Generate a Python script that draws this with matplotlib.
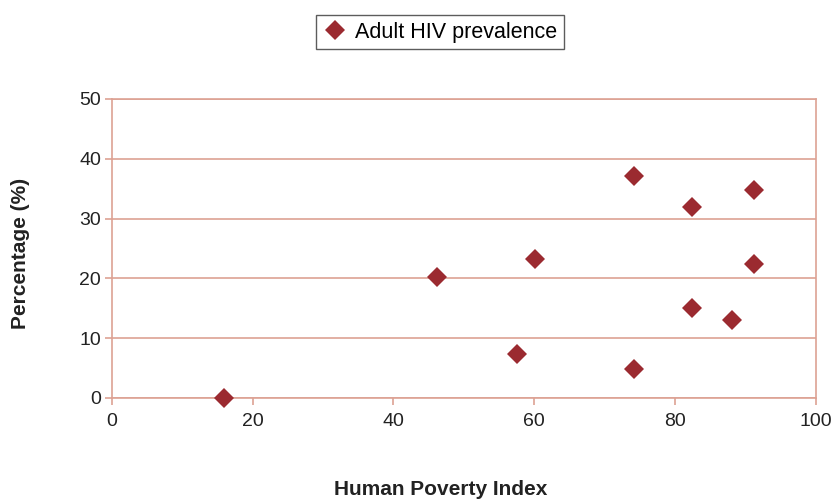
import matplotlib.pyplot as plt
from matplotlib.lines import Line2D

# Human Poverty Index vs adult HIV prevalence (%)
hpi = [15.9, 46.2, 57.6, 60.1, 74.2, 74.2, 82.4, 82.4, 88.1, 91.3, 91.3]
hiv = [0.0, 20.2, 7.3, 23.2, 37.2, 4.9, 31.9, 15.0, 13.0, 34.7, 22.4]
x_ticks = [0, 20, 40, 60, 80, 100]
y_ticks = [0, 10, 20, 30, 40, 50]
series_name = "Adult HIV prevalence"

MARKER = "#9B2A30"
GRID = "#DDA294"
TEXT = "#222222"

plt.rcParams["font.family"] = ["Liberation Sans", "DejaVu Sans"]

fig = plt.figure(figsize=(8.36, 5.01), dpi=100)
ax = fig.add_axes([0.134, 0.2056, 0.8415, 0.5968])

ax.plot(hpi, hiv, linestyle="none", marker="D", markersize=10.5,
        color=MARKER, markeredgewidth=0, clip_on=False, zorder=3)

ax.set_xlim(0, 100)
ax.set_ylim(0, 50)
ax.set_xticks(x_ticks)
ax.set_yticks(y_ticks)
ax.tick_params(axis="both", labelsize=14, color=GRID, length=5, width=1.2,
               labelcolor=TEXT)
ax.tick_params(axis="x", pad=6)
ax.tick_params(axis="y", pad=3)
ax.grid(axis="y", color=GRID, linewidth=1.2)
ax.set_axisbelow(True)
for side in ["left", "right", "bottom", "top"]:
    ax.spines[side].set_color(GRID)
    ax.spines[side].set_linewidth(1.2)

fig.text(0.527, 0.022, "Human Poverty Index", ha="center", va="center",
         fontsize=15, fontweight="bold", color=TEXT)
fig.text(0.025, 0.495, "Percentage (%)", ha="center", va="center",
         rotation=90, fontsize=15, fontweight="bold", color=TEXT)

handle = Line2D([], [], linestyle="none", marker="D", markersize=10.5,
                color=MARKER, markeredgewidth=0)
leg = fig.legend([handle], [series_name], loc="center", bbox_to_anchor=(0.526, 0.936),
                 fontsize=15.5, frameon=True, fancybox=False, handletextpad=0.35,
                 borderpad=0.3, handlelength=1.2, borderaxespad=0)
leg.get_frame().set_edgecolor("#333333")
leg.get_frame().set_linewidth(1.0)

fig.savefig("out.png", dpi=100)
